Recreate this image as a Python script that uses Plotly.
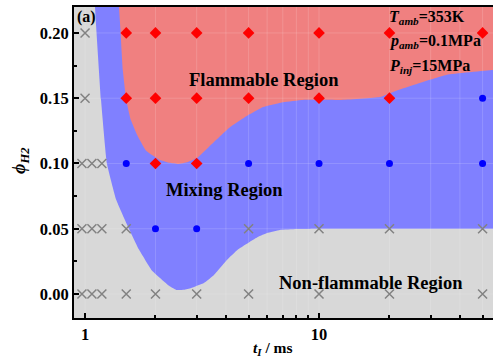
import numpy as np
import plotly.graph_objects as go

# ---------------- data ----------------
# experimental points (t_I in ms, phi_H2)
nonflam_t = [1.0, 1.0, 0.97, 1.07, 1.18, 0.97, 1.07, 1.18, 1.5, 5, 10, 20, 50,
             0.97, 1.07, 1.18, 1.5, 2, 3, 5, 10, 20, 50]
nonflam_phi = [0.20, 0.15, 0.10, 0.10, 0.10, 0.05, 0.05, 0.05, 0.05, 0.05, 0.05, 0.05, 0.05,
               0.0, 0.0, 0.0, 0.0, 0.0, 0.0, 0.0, 0.0, 0.0, 0.0]
mixing_t = [50, 1.5, 5, 10, 20, 50, 2, 3]
mixing_phi = [0.15, 0.10, 0.10, 0.10, 0.10, 0.10, 0.05, 0.05]
flam_t = [1.5, 2, 3, 5, 10, 20, 50, 1.5, 2, 3, 5, 10, 20, 2, 3]
flam_phi = [0.20, 0.20, 0.20, 0.20, 0.20, 0.20, 0.20,
            0.15, 0.15, 0.15, 0.15, 0.15, 0.15, 0.10, 0.10]

# region boundaries
mix_lower_t = [1.06, 1.103, 1.17, 1.24, 1.36, 1.54, 1.70, 1.93, 2.13, 2.30, 2.47, 2.65, 2.84,
               3.22, 3.56, 4.04, 4.5, 5.07, 5.5, 6.0, 6.8, 8.0, 10, 20, 60, 100]
mix_lower_phi = [0.30, 0.22, 0.149, 0.100, 0.072, 0.050, 0.034, 0.018, 0.011, 0.006, 0.003,
                 0.0032, 0.0046, 0.0084, 0.0146, 0.026, 0.034, 0.040, 0.0438, 0.0467, 0.049,
                 0.0497, 0.050, 0.050, 0.050, 0.050]
flam_lower_t = [1.40, 1.42, 1.45, 1.50, 1.57, 1.67, 1.82, 2.09, 2.30, 2.50, 2.75, 3.01, 3.52,
                4.17, 4.97, 5.76, 7.02, 8.54, 12.3, 18.2, 21.5, 27.8, 35.2, 55.4, 100]
flam_lower_phi = [0.30, 0.20, 0.1716, 0.1487, 0.1333, 0.1218, 0.110, 0.1027, 0.1005, 0.0996,
                  0.1012, 0.1042, 0.1157, 0.128, 0.137, 0.1433, 0.147, 0.1487, 0.1487, 0.151,
                  0.156, 0.1625, 0.168, 0.1716, 0.175]
region_top = 0.30
region_right = 100

x_major = [1, 10]
x_minor = [2, 3, 4, 5, 6, 7, 8, 9, 20, 30, 40, 50]
y_major = [0.0, 0.05, 0.10, 0.15, 0.20]
x_range = [0.897, 55.4]
y_range = [-0.0184, 0.2199]

# ---------------- figure ----------------
W, H = 494, 360
L, R, T, B = 74, 1, 7, 42
pw, ph = W - L - R, H - T - B


def px(x):
    return (x - L) / pw


def py(y):
    return (H - B - y) / ph


GRAY = "rgb(216,216,216)"
BLUE = "rgb(128,128,255)"
RED = "rgb(240,128,128)"
FONT = "Liberation Serif"

fig = go.Figure()

# mixing region (blue)
bx = mix_lower_t + [region_right, mix_lower_t[0]]
by = mix_lower_phi + [region_top, region_top]
fig.add_trace(go.Scatter(x=bx, y=by, mode="lines", fill="toself", fillcolor=BLUE,
                         line=dict(width=0, color=BLUE, shape="spline", smoothing=0.3),
                         hoverinfo="skip", showlegend=False))
# flammable region (red)
rx = flam_lower_t + [region_right, flam_lower_t[0]]
ry = flam_lower_phi + [region_top, region_top]
fig.add_trace(go.Scatter(x=rx, y=ry, mode="lines", fill="toself", fillcolor=RED,
                         line=dict(width=0, color=RED, shape="spline", smoothing=0.3),
                         hoverinfo="skip", showlegend=False))

# faint grid lines drawn above the fills
gx, gy = [], []
for v in x_major + x_minor:
    gx += [v, v, None]
    gy += [y_range[0], y_range[1], None]
for v in y_major:
    gx += [x_range[0], x_range[1], None]
    gy += [v, v, None]
fig.add_trace(go.Scatter(x=gx, y=gy, mode="lines",
                         line=dict(color="rgba(255,255,255,0.15)", width=1),
                         hoverinfo="skip", showlegend=False))

# markers
fig.add_trace(go.Scatter(x=nonflam_t, y=nonflam_phi, mode="markers",
                         marker=dict(symbol="x-thin", size=9,
                                     line=dict(color="rgb(130,130,130)", width=1.5)),
                         showlegend=False))
fig.add_trace(go.Scatter(x=mixing_t, y=mixing_phi, mode="markers",
                         marker=dict(symbol="circle", size=7, color="rgb(0,0,255)"),
                         showlegend=False))
fig.add_trace(go.Scatter(x=flam_t, y=flam_phi, mode="markers",
                         marker=dict(symbol="diamond", size=9, color="rgb(255,0,0)"),
                         showlegend=False))

tickfont = dict(family=FONT, size=16.5, color="black")

fig.update_xaxes(type="log", range=[np.log10(x_range[0]), np.log10(x_range[1])],
                 tickmode="array", tickvals=x_major, ticktext=["<b>1</b>", "<b>10</b>"],
                 ticks="inside", ticklen=5, tickwidth=2, tickcolor="black",
                 minor=dict(tickmode="array", tickvals=x_minor, ticks="inside",
                            ticklen=3, tickwidth=1.5, tickcolor="black", showgrid=False),
                 showline=True, linecolor="black", linewidth=2, mirror=True,
                 showgrid=False, zeroline=False, tickfont=tickfont)
fig.update_yaxes(range=y_range, tickmode="array", tickvals=y_major,
                 ticktext=["<b>%.2f</b>" % v for v in y_major],
                 ticks="inside", ticklen=5, tickwidth=2, tickcolor="black",
                 minor=dict(dtick=0.025, tick0=0, ticks="inside", ticklen=3,
                            tickwidth=1.5, tickcolor="black", showgrid=False),
                 showline=True, linecolor="black", linewidth=2, mirror=False,
                 showgrid=False, zeroline=False, tickfont=tickfont)

ann = []


def add(text, x, y, size=18.5, xanchor="center", angle=0):
    ann.append(dict(text=text, xref="paper", yref="paper", x=px(x), y=py(y),
                    xanchor=xanchor, yanchor="middle", showarrow=False, textangle=angle,
                    font=dict(family=FONT, size=size, color="black")))


add("<b>(a)</b>", 86, 17, size=16)
add("<b>Flammable Region</b>", 264, 80)
add("<b>Mixing Region</b>", 224, 190)
add("<b>Non-flammable Region</b>", 371, 283)
add("<b><i>T</i><sub><i>amb</i></sub>=353K</b>", 387, 17, size=16, xanchor="left")
add("<b><i>p</i><sub><i>amb</i></sub>=0.1MPa</b>", 387, 42, size=16, xanchor="left")
add("<b><i>P</i><sub><i>inj</i></sub>=15MPa</b>", 387, 66, size=16, xanchor="left")
add("<b><i>t</i><sub><i>I</i></sub> / ms</b>", 273, 348, size=15.5)
add("<b><i>ϕ</i><sub><i>H2</i></sub></b>", 20, 160, size=18, angle=-90)

fig.update_layout(width=W, height=H, margin=dict(l=L, r=R, t=T, b=B),
                  plot_bgcolor=GRAY, paper_bgcolor="white",
                  annotations=ann, showlegend=False)

fig.write_html("out.html")
